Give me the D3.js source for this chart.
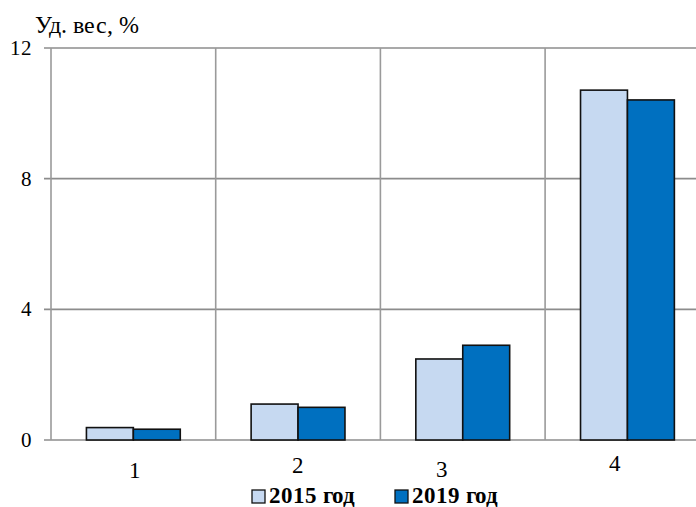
<!DOCTYPE html>
<html><head><meta charset="utf-8">
<script src="https://cdn.jsdelivr.net/npm/d3@7"></script>
<style>
@font-face { font-family: "SerifX"; font-weight: 400; src: local("Liberation Serif"), local("LiberationSerif"), local("Times New Roman"); }
@font-face { font-family: "SerifX"; font-weight: 700; src: local("Liberation Serif Bold"), local("LiberationSerif-Bold"), local("Times New Roman Bold"); }
</style>
</head><body style="margin:0">
<svg id="c" width="696" height="507" style="display:block;background:#fff"></svg>
<script>
const categories = ["1","2","3","4"];
const seriesNames = ["2015 год","2019 год"];
const values2015 = [0.38, 1.1, 2.48, 10.71];
const values2019 = [0.33, 1.0, 2.9, 10.41];
const yTicks = [0, 4, 8, 12];
const yTitle = "Уд. вес, %";

function draw(){
const FONT = "SerifX, 'Liberation Serif', 'Times New Roman', serif";
const colors = ["#c6d9f1", "#0070c0"];
const svg = d3.select("#c");
const pLeft = 51, pTop = 48, pBottom = 440, step = 164.7;

const x = d3.scaleBand().domain(categories).range([pLeft, pLeft + step*categories.length]).padding(0);
const xs = d3.scaleBand().domain(seriesNames).range([0, x.bandwidth()]).paddingInner(0).paddingOuter(0.755);
const y = d3.scaleLinear().domain([0, 12]).range([pBottom, pTop]);

svg.append("g").selectAll("line").data(yTicks).join("line")
  .attr("x1", pLeft - 7).attr("x2", 696)
  .attr("y1", d => y(d)).attr("y2", d => y(d))
  .attr("stroke", "#8c8c8c").attr("stroke-width", 1.6);
svg.append("g").selectAll("line").data(categories).join("line")
  .attr("x1", d => x(d)).attr("x2", d => x(d))
  .attr("y1", pTop).attr("y2", pBottom)
  .attr("stroke", "#9a9a9a").attr("stroke-width", 1.6);

svg.append("g").selectAll("text").data(yTicks).join("text")
  .attr("x", 32).attr("y", d => y(d)).attr("dy", "0.34em")
  .attr("text-anchor", "end").style("font-family", FONT).style("font-size", "21px").text(d => d);

svg.append("text").attr("x", 35).attr("y", 33).style("font-family", FONT).style("font-size", "24px").text(yTitle);

const table = categories.map((c, i) => ({c, v: [values2015[i], values2019[i]]}));
const g = svg.append("g").selectAll("g").data(table).join("g")
  .attr("transform", d => `translate(${x(d.c)},0)`);
g.selectAll("rect").data(d => d.v.map((v, j) => ({s: seriesNames[j], v, j}))).join("rect")
  .attr("x", d => xs(d.s)).attr("width", xs.bandwidth())
  .attr("y", d => y(d.v)).attr("height", d => y(0) - y(d.v))
  .attr("fill", d => colors[d.j]).attr("stroke", "#111").attr("stroke-width", 1.6);

const labDx = [2, -0.5, -21, -12.5];
const labY = [478, 473, 477, 471];
svg.append("g").selectAll("text").data(categories).join("text")
  .attr("x", (d, i) => x(d) + x.bandwidth()/2 + labDx[i]).attr("y", (d, i) => labY[i])
  .attr("text-anchor", "middle").style("font-family", FONT).style("font-size", "23px").text(d => d);

const lx = [252, 395];
const lg = svg.append("g").selectAll("g").data(seriesNames).join("g")
  .attr("transform", (d, i) => `translate(${lx[i]},0)`);
lg.append("rect").attr("x", 0).attr("y", 490).attr("width", 13).attr("height", 13)
  .attr("fill", (d, i) => colors[i]).attr("stroke", "#111").attr("stroke-width", 1.3);
lg.append("text").attr("x", 17).attr("y", 503).style("font-family", FONT).style("font-size", "23px").style("font-weight", "bold").text(d => d);
}
draw();
</script>
</body></html>
